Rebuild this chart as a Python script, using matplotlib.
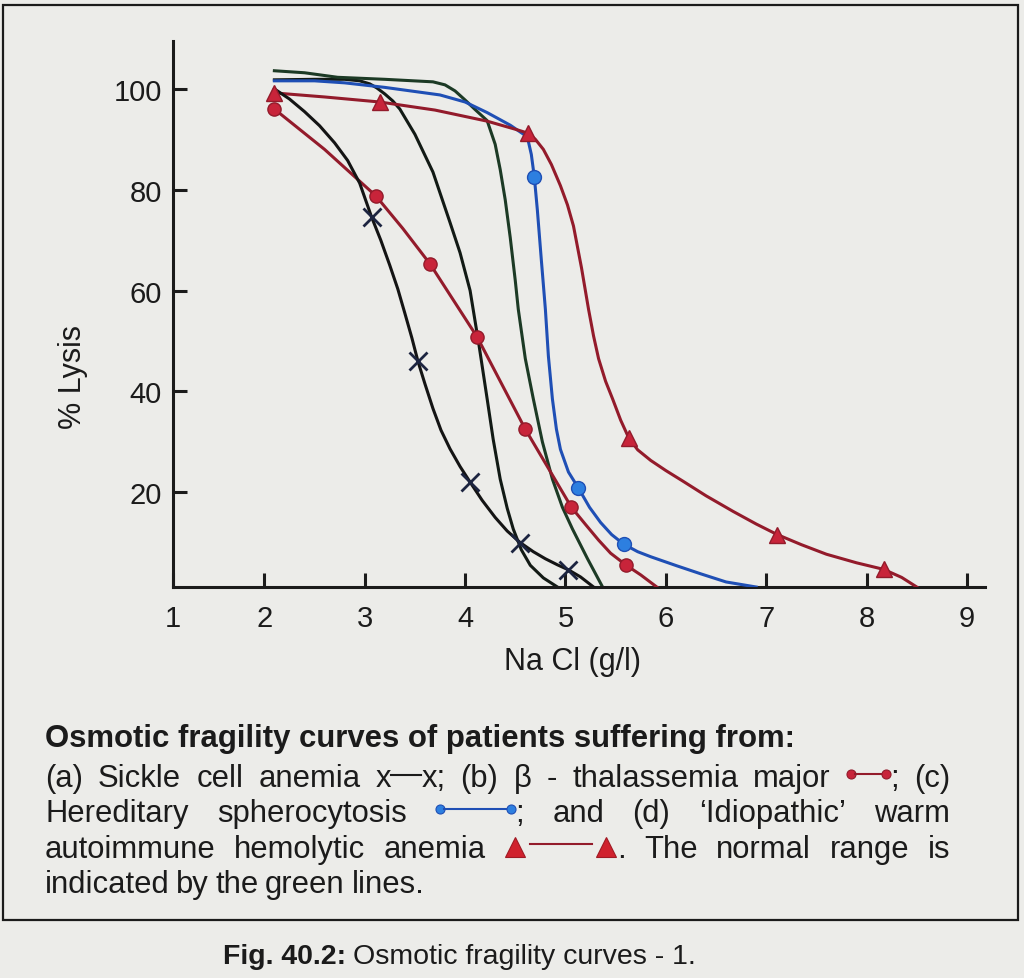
import matplotlib
matplotlib.use('Agg')
import matplotlib.pyplot as plt
from matplotlib.lines import Line2D
from matplotlib.patches import Rectangle

# ---------------- data ----------------
x_ticks = [1, 2, 3, 4, 5, 6, 7, 8, 9]
y_ticks = [20, 40, 60, 80, 100]

# (a) Sickle cell anemia  x----x
sickle_x = [2.10, 2.25, 2.40, 2.55, 2.70, 2.83, 2.95, 3.07, 3.16, 3.25, 3.33, 3.40, 3.47, 3.53, 3.60,
            3.68, 3.76, 3.85, 3.95, 4.05, 4.17, 4.30, 4.42, 4.55, 4.68, 4.80, 4.92, 5.03, 5.15, 5.28]
sickle_y = [100.0, 98.0, 95.5, 92.7, 89.3, 85.8, 81.3, 74.5, 70.0, 65.0, 60.3, 55.5, 50.6, 46.0, 41.5,
            36.6, 32.3, 28.6, 25.1, 22.0, 18.4, 15.0, 12.3, 10.0, 8.2, 6.8, 5.6, 4.6, 3.2, 1.2]
sickle_mx = [3.07, 3.53, 4.05, 4.55, 5.03]
sickle_my = [74.5, 46.0, 22.0, 10.0, 4.6]

# (b) beta-thalassemia major  (red dots)
thal_x = [2.10, 2.60, 3.11, 3.38, 3.65, 4.12, 4.60, 5.06, 5.20, 5.33, 5.45, 5.60, 5.75, 5.91]
thal_y = [96.0, 88.0, 78.8, 72.3, 65.3, 50.8, 32.5, 17.0, 13.6, 10.5, 7.9, 5.6, 3.6, 1.2]
thal_mx = [2.10, 3.11, 3.65, 4.12, 4.60, 5.06, 5.60]
thal_my = [96.0, 78.8, 65.3, 50.8, 32.5, 17.0, 5.6]

# (c) Hereditary spherocytosis  (blue dots)
hs_x = [2.10, 2.50, 2.80, 3.20, 3.75, 4.00, 4.22, 4.45, 4.62, 4.66, 4.69, 4.72, 4.76, 4.80, 4.83,
        4.87, 4.91, 4.95, 5.03, 5.13, 5.24, 5.35, 5.46, 5.58, 5.72, 5.85, 6.11, 6.35, 6.60, 6.90]
hs_y = [101.6, 101.6, 101.2, 100.3, 98.8, 97.4, 95.3, 92.8, 90.5, 87.0, 82.5, 76.0, 66.0, 56.3, 47.0,
        38.5, 32.5, 28.5, 24.0, 20.8, 17.0, 14.0, 11.6, 9.7, 8.2, 7.2, 5.4, 3.8, 2.2, 1.2]
hs_mx = [4.69, 5.13, 5.58]
hs_my = [82.5, 20.8, 9.7]

# (d) Idiopathic warm autoimmune hemolytic anemia  (red triangles)
aiha_x = [2.10, 2.60, 3.15, 3.70, 4.22, 4.50, 4.63, 4.70, 4.78, 4.86, 4.95, 5.02, 5.08, 5.16, 5.23,
          5.28, 5.33, 5.40, 5.47, 5.55, 5.63, 5.72, 5.85, 6.00, 6.17, 6.40, 6.67, 6.90, 7.11, 7.35,
          7.60, 7.90, 8.17, 8.35, 8.50]
aiha_y = [99.2, 98.4, 97.4, 95.8, 93.6, 92.0, 91.2, 90.0, 88.0, 85.0, 80.8, 77.0, 72.8, 64.5, 56.3,
          51.0, 46.5, 42.0, 38.5, 34.3, 30.8, 28.4, 26.3, 24.3, 22.2, 19.3, 16.2, 13.7, 11.6, 9.6,
          7.7, 6.0, 4.7, 3.1, 1.2]
aiha_mx = [2.10, 3.15, 4.63, 5.63, 7.11, 8.17]
aiha_my = [99.2, 97.4, 91.2, 30.8, 11.6, 4.7]

# Normal range (green lines)
normal_low_x = [2.10, 2.50, 2.80, 2.95, 3.05, 3.12, 3.20, 3.28, 3.35, 3.50, 3.68, 3.85, 3.95, 4.05,
                4.14, 4.22, 4.28, 4.35, 4.42, 4.48, 4.56, 4.65, 4.78, 4.92]
normal_low_y = [101.8, 101.9, 101.9, 101.6, 101.0, 100.2, 99.0, 97.6, 96.0, 91.0, 83.5, 73.5, 67.5,
                60.0, 49.0, 38.5, 30.5, 22.6, 16.8, 12.7, 8.6, 5.5, 3.0, 1.2]
normal_high_x = [2.10, 2.40, 2.73, 3.20, 3.68, 3.80, 3.90, 4.00, 4.10, 4.22, 4.30, 4.35, 4.40, 4.45,
                 4.50, 4.53, 4.60, 4.68, 4.77, 4.87, 4.97, 5.07, 5.22, 5.37]
normal_high_y = [103.6, 103.2, 102.3, 101.9, 101.4, 100.8, 99.6, 97.8, 95.9, 93.7, 89.0, 84.0, 78.0,
                 70.5, 62.0, 56.3, 46.5, 38.5, 30.0, 22.6, 17.0, 12.7, 6.8, 1.2]

# ---------------- style ----------------
plt.rcParams['font.family'] = ['Liberation Sans', 'DejaVu Sans']

W, H, DPI = 1024, 979, 100
BG = '#ecece9'
INK = '#1b1b1b'
GREEN_DARK = '#121a15'
GREEN = '#1c3a25'
RED_LINE = '#931b2b'
RED_MARK = '#c8243a'
BLUE_LINE = '#1f4fb5'
BLUE_MARK = '#2d7fe0'
BLACK = '#141414'
XMARK = '#1c2440'
LW = 2.2

fig = plt.figure(figsize=(W / DPI, H / DPI), dpi=DPI)
fig.patch.set_facecolor(BG)


def fx(px):
    return px / W


def fy(py):
    return 1 - py / H


ax = fig.add_axes([fx(173), fy(588), (985 - 173) / W, (588 - 42) / H])
ax.set_facecolor('none')
ax.set_xlim(1.09, 9.18)
ax.set_ylim(1.2, 109.5)
for s in ('top', 'right'):
    ax.spines[s].set_visible(False)
for s in ('left', 'bottom'):
    ax.spines[s].set_linewidth(2.2)
    ax.spines[s].set_color(INK)
ax.set_xticks([1.09] + x_ticks[1:])
ax.set_xticklabels([str(v) for v in x_ticks])
ax.set_yticks(y_ticks)
ax.set_yticklabels([str(v) for v in y_ticks])
ax.tick_params(axis='both', direction='in', length=10, width=2.2, color=INK,
               labelsize=21, labelcolor=INK)
ax.tick_params(axis='x', pad=12)
ax.tick_params(axis='y', pad=8)

ax.plot(normal_low_x, normal_low_y, color=GREEN_DARK, lw=LW, zorder=2, solid_joinstyle='round')
ax.plot(normal_high_x, normal_high_y, color=GREEN, lw=LW, zorder=2, solid_joinstyle='round')
ax.plot(hs_x, hs_y, color=BLUE_LINE, lw=LW, zorder=3, solid_joinstyle='round')
ax.plot(aiha_x, aiha_y, color=RED_LINE, lw=LW, zorder=3, solid_joinstyle='round')
ax.plot(thal_x, thal_y, color=RED_LINE, lw=LW, zorder=3, solid_joinstyle='round')
ax.plot(sickle_x, sickle_y, color=BLACK, lw=LW, zorder=3, solid_joinstyle='round')

ax.plot(sickle_mx, sickle_my, ls='none', marker='x', ms=13, mew=2, color=XMARK, zorder=5)
ax.plot(thal_mx, thal_my, ls='none', marker='o', ms=9.5, mfc=RED_MARK, mec=RED_LINE, mew=1, zorder=5)
ax.plot(hs_mx, hs_my, ls='none', marker='o', ms=10, mfc=BLUE_MARK, mec=BLUE_LINE, mew=1, zorder=5)
ax.plot(aiha_mx, aiha_my, ls='none', marker='^', ms=11, mfc=RED_MARK, mec=RED_LINE, mew=1,
        zorder=5, clip_on=False)

fig.text(fx(572), fy(670), 'Na Cl (g/l)', ha='center', va='baseline', fontsize=22, color=INK)
fig.text(fx(73), fy(377), '% Lysis', rotation=90, ha='center', va='center', fontsize=22, color=INK)

# ---------------- caption block ----------------
fig.text(fx(45), fy(747), 'Osmotic fragility curves of patients suffering from:',
         fontweight='bold', fontsize=22.4, va='baseline', ha='left', color=INK)

BODY = 22.3
renderer = fig.canvas.get_renderer()


def text_w(s, **kw):
    t = fig.text(0, 0, s, fontsize=BODY, **kw)
    w = t.get_window_extent(renderer=renderer).width
    t.remove()
    return w


def part_w(p):
    if p[0] == 't':
        return text_w(p[1])
    return p[1]


def draw_part(p, x, base):
    kind = p[0]
    if kind == 't':
        fig.text(fx(x), fy(base), p[1], fontsize=BODY, va='baseline', ha='left', color=INK)
    elif kind == 'l':
        w, col, dy = p[1], p[2], p[3]
        fig.add_artist(Line2D([fx(x), fx(x + w)], [fy(base - dy), fy(base - dy)],
                              transform=fig.transFigure, color=col, lw=1.5))
    elif kind == 'm':
        w, marker, fc, ec, ms, dy = p[1], p[2], p[3], p[4], p[5], p[6]
        fig.add_artist(Line2D([fx(x + w / 2)], [fy(base - dy)], transform=fig.transFigure,
                              ls='none', marker=marker, ms=ms, mfc=fc, mec=ec, mew=0.8))
    # 'g' = blank gap


def layout(tokens, base, x0=45, x1=950, gap=None):
    widths = [sum(part_w(p) for p in tok) for tok in tokens]
    if gap is None:
        gap = (x1 - x0 - sum(widths)) / (len(tokens) - 1)
    x = x0
    for tok, w in zip(tokens, widths):
        for p in tok:
            draw_part(p, x, base)
            x += part_w(p)
        x += gap


red_dot = ('m', 9, 'o', RED_MARK, RED_LINE, 6.5, 12)
blue_dot = ('m', 9, 'o', BLUE_MARK, BLUE_LINE, 6.5, 12)
tri = ('m', 22, '^', '#d0222e', '#a01a24', 15, 10)

line1 = [[('t', '(a)')], [('t', 'Sickle')], [('t', 'cell')], [('t', 'anemia')],
         [('t', 'x'), ('l', 30, INK, 11), ('t', 'x;')], [('t', '(b)')], [('t', 'β')], [('t', '-')],
         [('t', 'thalassemia')], [('t', 'major')],
         [red_dot, ('l', 26, RED_LINE, 12), red_dot, ('t', ';')], [('t', '(c)')]]
line2 = [[('t', 'Hereditary')], [('t', 'spherocytosis')],
         [blue_dot, ('l', 62, BLUE_LINE, 12), blue_dot, ('t', ';')],
         [('t', 'and')], [('t', '(d)')], [('t', '‘Idiopathic’')], [('t', 'warm')]]
line3 = [[('t', 'autoimmune')], [('t', 'hemolytic')], [('t', 'anemia')],
         [tri, ('g', 4), ('l', 62, RED_LINE, 13), ('g', 3), tri, ('t', '.')],
         [('t', 'The')], [('t', 'normal')], [('t', 'range')], [('t', 'is')]]
line4 = [[('t', 'indicated')], [('t', 'by')], [('t', 'the')], [('t', 'green')], [('t', 'lines.')]]

layout(line1, 787)
layout(line2, 822)
layout(line3, 858)
layout(line4, 893, gap=6.5)

# outer frame
fig.add_artist(Rectangle((fx(3), fy(921)), fx(1018) - fx(3), fy(6) - fy(921),
                         transform=fig.transFigure, fill=False, lw=1.6, ec=INK))

# figure caption
cap_bold = fig.text(fx(223), fy(964), 'Fig. 40.2:', fontweight='bold', fontsize=20.5,
                    va='baseline', ha='left', color=INK)
bw = cap_bold.get_window_extent(renderer=renderer).width
fig.text(fx(223 + bw + 7), fy(964), 'Osmotic fragility curves - 1.', fontsize=20.5,
         va='baseline', ha='left', color=INK)

fig.savefig('out.png', dpi=DPI, facecolor=BG)
